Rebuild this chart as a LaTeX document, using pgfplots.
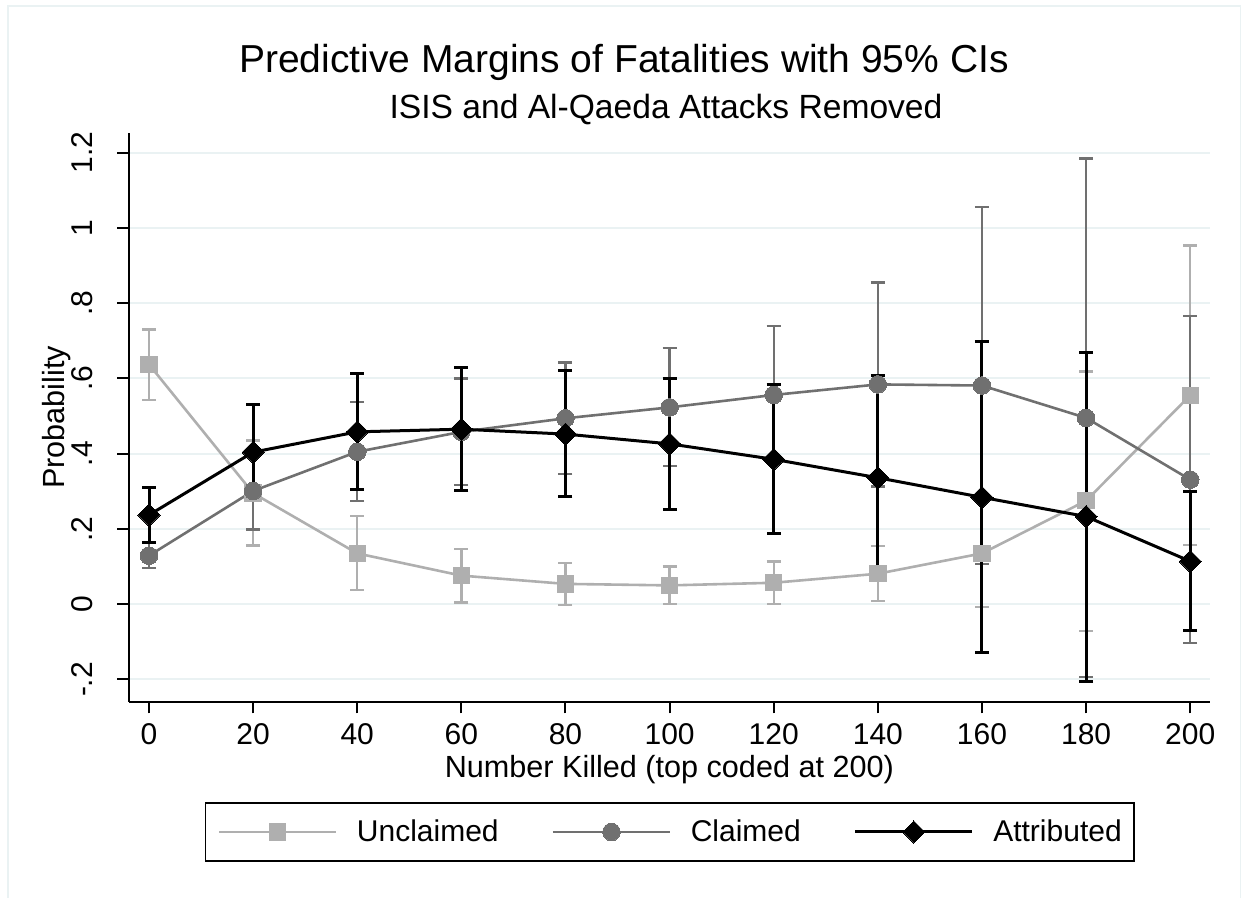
\documentclass[border=0pt]{standalone}
\usepackage{pgfplots}
\pgfplotsset{compat=1.18}
\usepackage{pgfplotstable}
\usepackage{fontspec}
\setmainfont{Liberation Sans}

\definecolor{unclaimed}{RGB}{175,175,175}
\definecolor{claimed}{RGB}{112,112,112}
\definecolor{gridc}{RGB}{234,242,243}

% x = number killed, y = margin, lo/hi = 95% CI
\pgfplotstableread{
x   y     lo      hi
0   0.637  0.543  0.730
20  0.295  0.156  0.435
40  0.135  0.037  0.235
60  0.076  0.005  0.147
80  0.054 -0.002  0.110
100 0.050  0.000  0.100
120 0.057  0.001  0.113
140 0.081  0.008  0.155
160 0.135 -0.007  0.277
180 0.275 -0.071  0.618
200 0.555  0.157  0.953
}\unclaimedtab

\pgfplotstableread{
x   y     lo      hi
0   0.129  0.097  0.162
20  0.301  0.199  0.403
40  0.405  0.274  0.538
60  0.458  0.317  0.600
80  0.494  0.346  0.642
100 0.523  0.367  0.680
120 0.556  0.373  0.739
140 0.584  0.313  0.855
160 0.581  0.107  1.055
180 0.495 -0.194  1.184
200 0.331 -0.103  0.765
}\claimedtab

\pgfplotstableread{
x   y     lo      hi
0   0.237  0.164  0.311
20  0.404  0.277  0.531
40  0.458  0.304  0.613
60  0.465  0.301  0.628
80  0.452  0.286  0.620
100 0.426  0.252  0.600
120 0.385  0.189  0.584
140 0.336  0.064  0.608
160 0.284 -0.129  0.698
180 0.233 -0.205  0.670
200 0.114 -0.069  0.299
}\attributedtab

\begin{document}
\begin{tikzpicture}
\useasboundingbox (0,0) rectangle (620.5pt,449pt);
\draw[gridc, line width=1pt] (4pt,-5pt) -- (4pt,446pt) -- (620.25pt,446pt) -- (620.25pt,-5pt);

\node[anchor=base, font=\fontsize{19.5}{23}\selectfont] at (312pt,412.5pt)
  {Predictive Margins of Fatalities with 95\% CIs};
\node[anchor=base, font=\fontsize{16.8}{20}\selectfont] at (333pt,389.5pt)
  {ISIS and Al-Qaeda Attacks Removed};

\begin{axis}[
    at={(64.35pt,98.15pt)}, anchor=south west,
    scale only axis, width=540.65pt, height=284.35pt,
    xmin=-3.9, xmax=203.8, ymin=-0.259, ymax=1.252,
    axis x line*=bottom, axis y line*=left,
    axis line style={line width=1pt, -},
    xtick={0,20,...,200},
    ytick={-0.2,0,0.2,0.4,0.6,0.8,1,1.2},
    yticklabels={-.2,0,.2,.4,.6,.8,1,1.2},
    /pgf/number format/assume math mode=true,
    tick align=outside, major tick length=5.8pt,
    tick style={black, line width=1pt},
    ymajorgrids, grid style={gridc, line width=1pt},
    ticklabel style={font=\fontsize{15}{18}\selectfont},
    xticklabel style={anchor=north, yshift=-1.5pt},
    yticklabel style={xshift=-12.4pt, rotate=90, anchor=base, inner sep=0pt},
    xlabel={Number Killed (top coded at 200)},
    ylabel={Probability},
    every axis x label/.style={at={(axis description cs:0.5,0)}, yshift=-38pt, anchor=base, font=\fontsize{15.3}{18}\selectfont},
    every axis y label/.style={at={(axis description cs:0,0.5)}, xshift=-32.3pt, rotate=90, anchor=base, font=\fontsize{15.3}{18}\selectfont},
    legend style={at={(axis description cs:0.5004,-0.2291)}, anchor=center,
        legend columns=3, draw=black, line width=0.75pt,
        font=\fontsize{15}{18}\selectfont,
        inner xsep=6.15pt, inner ysep=8.3pt, nodes={inner sep=0pt},
        /tikz/every odd column/.append style={column sep=9.75pt},
        /tikz/every even column/.append style={column sep=26.5pt}},
    legend image code/.code={\draw[mark repeat=2, mark phase=2, #1] plot coordinates {(0pt,0pt) (29.25pt,0pt) (58.5pt,0pt)};},
]
% confidence intervals first
\addplot[forget plot, only marks, mark=none,
    error bars/.cd, y dir=both, y explicit,
    error bar style={unclaimed, line width=1.2pt},
    error mark options={unclaimed, rotate=90, mark size=3.5pt, line width=1.2pt}]
  table[x=x, y=y, y error plus expr=\thisrow{hi}-\thisrow{y}, y error minus expr=\thisrow{y}-\thisrow{lo}] {\unclaimedtab};
\addplot[forget plot, only marks, mark=none,
    error bars/.cd, y dir=both, y explicit,
    error bar style={claimed, line width=1.2pt},
    error mark options={claimed, rotate=90, mark size=3.5pt, line width=1.2pt}]
  table[x=x, y=y, y error plus expr=\thisrow{hi}-\thisrow{y}, y error minus expr=\thisrow{y}-\thisrow{lo}] {\claimedtab};
\addplot[forget plot, only marks, mark=none,
    error bars/.cd, y dir=both, y explicit,
    error bar style={black, line width=1.5pt},
    error mark options={black, rotate=90, mark size=3.5pt, line width=1.5pt}]
  table[x=x, y=y, y error plus expr=\thisrow{hi}-\thisrow{y}, y error minus expr=\thisrow{y}-\thisrow{lo}] {\attributedtab};

% margins
\addplot[unclaimed, line width=1.3pt, mark=square*, mark size=4.1pt,
    mark options={solid, fill=unclaimed, draw=unclaimed, line width=0pt}]
  table[x=x, y=y] {\unclaimedtab};
\addlegendentry{Unclaimed}
\addplot[claimed, line width=1.3pt, mark=*, mark size=4.4pt,
    mark options={solid, fill=claimed, draw=claimed, line width=0pt}]
  table[x=x, y=y] {\claimedtab};
\addlegendentry{Claimed}
\addplot[black, line width=1.5pt, mark=square*, mark size=3.9pt,
    mark options={solid, rotate=45, fill=black, draw=black, line width=0pt}]
  table[x=x, y=y] {\attributedtab};
\addlegendentry{Attributed}
\end{axis}
\end{tikzpicture}
\end{document}
